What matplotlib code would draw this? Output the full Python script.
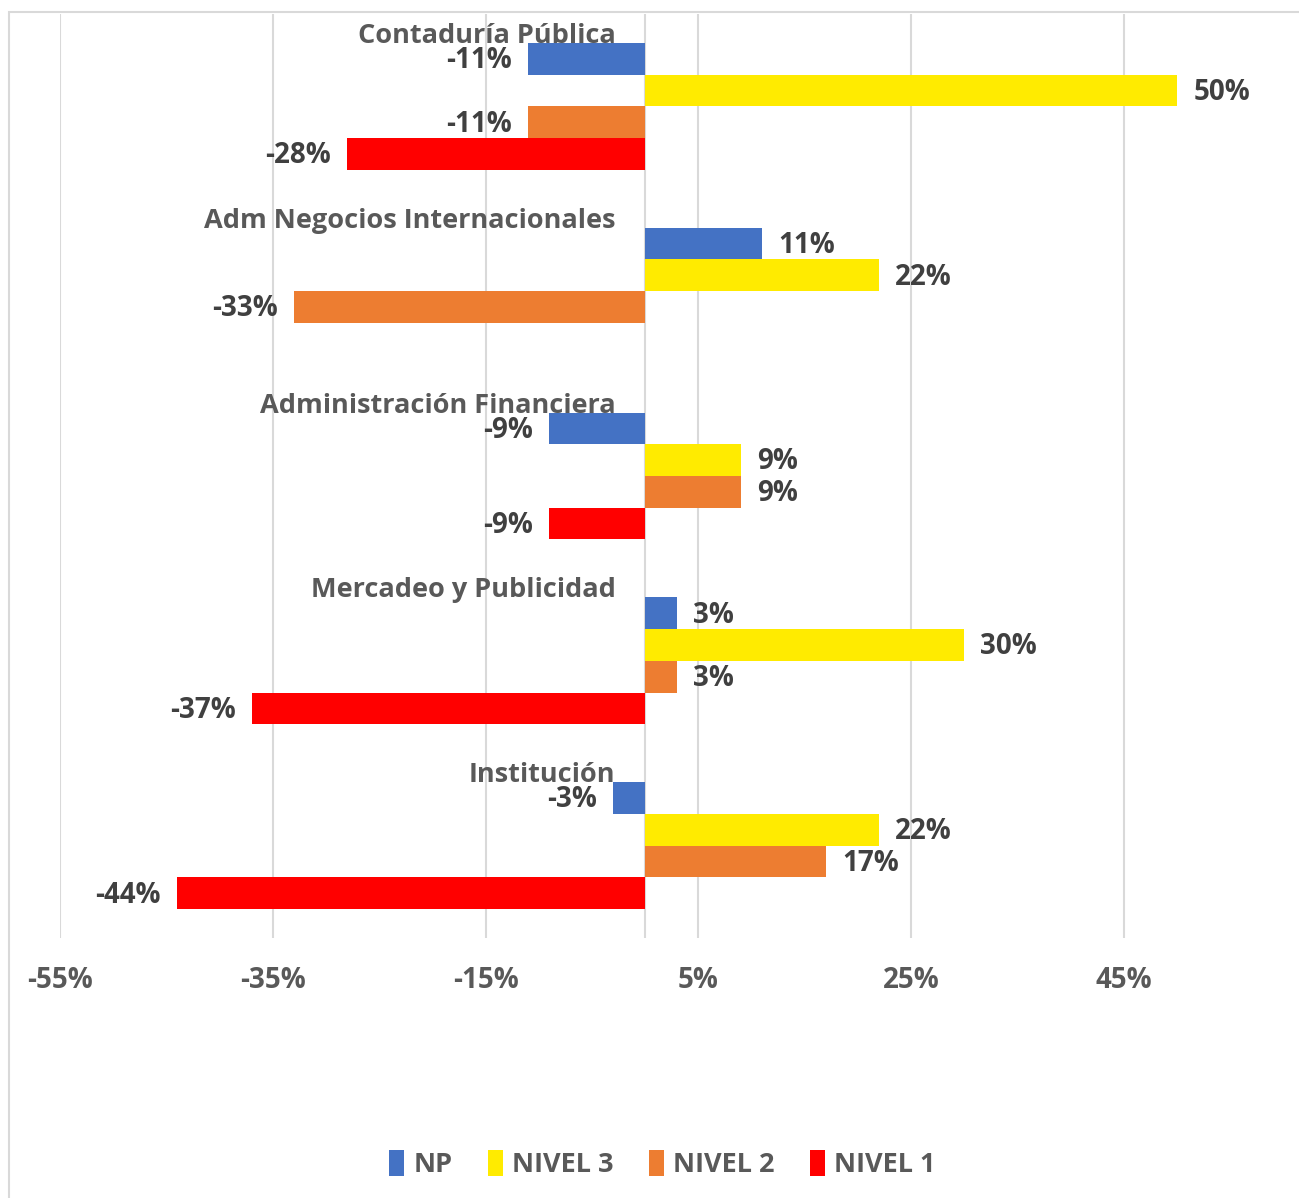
import numpy as np
import matplotlib
matplotlib.use("Agg")
import matplotlib.pyplot as plt
from matplotlib.patches import Rectangle

plt.rcParams['font.family'] = ['Open Sans', 'DejaVu Sans']

carreras = ["Contaduría Pública", "Adm Negocios Internacionales",
            "Administración Financiera", "Mercadeo y Publicidad", "Institución"]
series = ["NP", "NIVEL 3", "NIVEL 2", "NIVEL 1"]
np_vals = [-11, 11, -9, 3, -3]
nivel3 = [50, 22, 9, 30, 22]
nivel2 = [-11, -33, 9, 3, 17]
nivel1 = [-28, np.nan, -9, -37, -44]
colores = ["#4472C4", "#FFEB00", "#ED7D31", "#FF0000"]
ticks = [-55, -35, -15, 5, 25, 45]

gris = "#595959"
gris_osc = "#404040"

W, H = 1299, 1198
fig = plt.figure(figsize=(W / 100, H / 100), dpi=100)
ax = fig.add_axes([60 / W, 1 - 938 / H, 1 - 60 / W, 924 / H])

px = 10.64  # pixeles por punto porcentual
xmin = -55
xmax = xmin + (W - 60) / px
ax.set_xlim(xmin, xmax)
ax.set_ylim(4.5, -0.5)

alto = 0.1716
datos = [np_vals, nivel3, nivel2, nivel1]
y = np.arange(len(carreras))
for i, (vals, nombre, col) in enumerate(zip(datos, series, colores)):
    ys = y + (i - 1.5) * alto
    ax.barh(ys, vals, height=alto, color=col, label=nombre, zorder=3)
    for yy, v in zip(ys, vals):
        if np.isnan(v):
            continue
        if v >= 0:
            ax.text(v + 1.5, yy + 0.01, f"{v:.0f}%", ha="left", va="center",
                    fontsize=20, fontweight="bold", color=gris_osc)
        else:
            ax.text(v - 1.5, yy + 0.01, f"{v:.0f}%", ha="right", va="center",
                    fontsize=20, fontweight="bold", color=gris_osc)

for yy, nombre in zip(y, carreras):
    ax.text(-2.8, yy - 2 * alto - 0.038, nombre, ha="right", va="center",
            fontsize=19.5, fontweight="bold", color=gris)

ax.set_xticks(ticks)
ax.set_xticklabels([f"{t}%" for t in ticks], fontsize=20, fontweight="bold", color=gris)
ax.tick_params(axis="x", length=0, pad=20)
ax.set_yticks([])
ax.grid(axis="x", color="#D9D9D9", linewidth=1.5, zorder=0)
ax.axvline(0, color="#D9D9D9", linewidth=1.5, zorder=1)
for s in ax.spines.values():
    s.set_visible(False)

leg = fig.legend(loc="center", bbox_to_anchor=(0.51, 1 - 1164 / H), ncol=4, frameon=False,
                 prop={"size": 19.5, "weight": "bold"}, handlelength=0.55, handleheight=1.1,
                 handletextpad=0.35, columnspacing=1.3, labelcolor=gris)

fig.patches.append(Rectangle((9 / W, -0.1), 1.2, 1 - 12 / H + 0.1, transform=fig.transFigure,
                             fill=False, edgecolor="#D9D9D9", linewidth=1.5))

fig.savefig("out.png", dpi=100)
